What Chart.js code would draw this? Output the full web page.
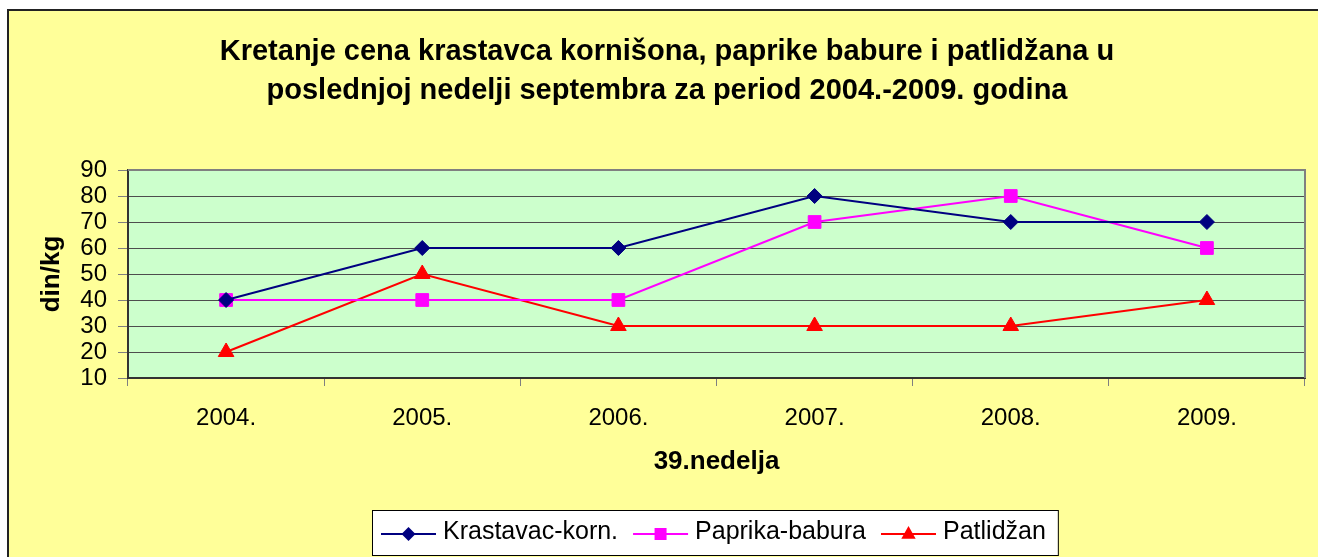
<!DOCTYPE html>
<html>
<head>
<meta charset="utf-8">
<script src="https://cdn.jsdelivr.net/npm/chart.js@4/dist/chart.umd.min.js"></script>
<style>
  html, body { margin: 0; padding: 0; background: #fff; }
  canvas { display: block; }
</style>
</head>
<body>
<canvas id="chart" width="1318" height="557"></canvas>
<script>
// data
const TITLE_LINES = [
  'Kretanje cena krastavca kornišona, paprike babure i patlidžana u',
  'poslednjoj nedelji septembra za period 2004.-2009. godina',
];
const YEARS = ['2004.', '2005.', '2006.', '2007.', '2008.', '2009.'];
const KRASTAVAC = [40, 60, 60, 80, 70, 70];
const PAPRIKA = [40, 40, 40, 70, 80, 60];
const PATLIDZAN = [20, 50, 30, 30, 30, 40];
const Y_TITLE = 'din/kg';
const X_TITLE = '39.nedelja';

const FONT = '"Liberation Sans", Arial, sans-serif';

// background, plot fill, plot frame
const frame = {
  id: 'frame',
  beforeDraw(chart) {
    const {ctx, chartArea: a} = chart;
    ctx.save();
    ctx.fillStyle = '#ffffff';
    ctx.fillRect(0, 0, chart.width, chart.height);
    ctx.fillStyle = '#ffff99';
    ctx.fillRect(8, 10, chart.width, chart.height);
    ctx.strokeStyle = '#222';
    ctx.lineWidth = 2;
    ctx.strokeRect(8, 10, chart.width + 20, chart.height + 20);
    ctx.fillStyle = '#ccffcc';
    ctx.fillRect(a.left, a.top, a.right - a.left, a.bottom - a.top);
    ctx.restore();
  },
  beforeDatasetsDraw(chart) {
    const {ctx, chartArea: a} = chart;
    ctx.save();
    ctx.strokeStyle = '#808080';
    ctx.lineWidth = 2;
    ctx.beginPath();
    ctx.moveTo(a.left, a.top);
    ctx.lineTo(a.right, a.top);
    ctx.lineTo(a.right, a.bottom);
    ctx.stroke();
    ctx.restore();
  },
};

// two-line title
const titleLines = {
  id: 'titleLines',
  afterDraw(chart) {
    const ctx = chart.ctx;
    ctx.save();
    ctx.fillStyle = '#000';
    ctx.font = 'bold 29px ' + FONT;
    ctx.textAlign = 'center';
    ctx.textBaseline = 'alphabetic';
    ctx.fillText(TITLE_LINES[0], 667, 60);
    ctx.fillText(TITLE_LINES[1], 667, 99);
    ctx.restore();
  },
};

function marker(ctx, style, x, y, r, color) {
  ctx.fillStyle = color;
  ctx.beginPath();
  if (style === 'rectRot') {
    ctx.moveTo(x - r, y);
    ctx.lineTo(x, y - r);
    ctx.lineTo(x + r, y);
    ctx.lineTo(x, y + r);
  } else if (style === 'rect') {
    ctx.rect(x - r, y - r, 2 * r, 2 * r);
  } else {
    ctx.moveTo(x, y - r);
    ctx.lineTo(x + r * 0.9, y + r * 0.6);
    ctx.lineTo(x - r * 0.9, y + r * 0.6);
  }
  ctx.closePath();
  ctx.fill();
}

// boxed legend: line with marker in the middle, like the spreadsheet one
const boxLegend = {
  id: 'boxLegend',
  afterDraw(chart) {
    const ctx = chart.ctx;
    const sets = chart.data.datasets;
    const left = 372, top = 510, h = 45, lineY = 534;
    ctx.save();
    ctx.font = '25px ' + FONT;
    let x = left + 9;
    const items = sets.map((ds) => {
      const it = {ds, x, tx: x + 62, w: ctx.measureText(ds.label).width};
      x = it.tx + it.w + 15;
      return it;
    });
    const right = x - 15 + 12;
    ctx.fillStyle = '#fff';
    ctx.fillRect(left, top, right - left, h);
    ctx.strokeStyle = '#000';
    ctx.lineWidth = 1;
    ctx.strokeRect(left + 0.5, top + 0.5, right - left, h);
    items.forEach((it) => {
      ctx.strokeStyle = it.ds.borderColor;
      ctx.lineWidth = 2;
      ctx.beginPath();
      ctx.moveTo(it.x, lineY);
      ctx.lineTo(it.x + 55, lineY);
      ctx.stroke();
      const half = {rectRot: 7, rect: 6, triangle: 8}[it.ds.pointStyle];
      marker(ctx, it.ds.pointStyle, it.x + 27.5, lineY, half, it.ds.borderColor);
      ctx.fillStyle = '#000';
      ctx.textBaseline = 'alphabetic';
      ctx.fillText(it.ds.label, it.tx, 539);
    });
    ctx.restore();
  },
};

function series(label, data, color, style, radius) {
  return {
    label,
    data,
    borderColor: color,
    backgroundColor: color,
    borderWidth: 2,
    pointStyle: style,
    pointRadius: radius,
    pointBorderWidth: 1,
    pointBackgroundColor: color,
    pointBorderColor: color,
    tension: 0,
  };
}

new Chart(document.getElementById('chart'), {
  type: 'line',
  data: {
    labels: YEARS,
    datasets: [
      series('Krastavac-korn.', KRASTAVAC, '#000080', 'rectRot', 7.5),
      series('Paprika-babura', PAPRIKA, '#ff00ff', 'rect', 9),
      series('Patlidžan', PATLIDZAN, '#ff0000', 'triangle', 9),
    ],
  },
  options: {
    responsive: false,
    devicePixelRatio: 1,
    animation: false,
    layout: {padding: {left: 0, right: 13, top: 170, bottom: 0}},
    plugins: {
      legend: {display: false},
      title: {display: false},
      tooltip: {enabled: false},
    },
    scales: {
      x: {
        offset: true,
        afterFit(scale) { scale.height = 179; },
        grid: {
          offset: true,
          drawOnChartArea: false,
          drawTicks: true,
          tickLength: 8,
          color: '#808080',
        },
        border: {color: '#333', width: 2},
        ticks: {
          color: '#000',
          padding: 18,
          font: {family: FONT, size: 24},
        },
        title: {
          display: true,
          text: X_TITLE,
          color: '#000',
          font: {family: FONT, size: 26, weight: 'bold'},
          padding: {top: 0, bottom: 80},
        },
      },
      y: {
        min: 10,
        max: 90,
        afterFit(scale) { scale.width = 128; },
        grid: {
          color: (c) => (c.tick && c.tick.value === 90 ? '#808080' : '#4d4d4d'),
          tickColor: '#808080',
          tickLength: 10,
        },
        border: {color: '#333', width: 2},
        ticks: {
          stepSize: 10,
          autoSkip: false,
          color: '#000',
          padding: 11,
          font: {family: FONT, size: 24},
        },
        title: {
          display: true,
          text: Y_TITLE,
          color: '#000',
          font: {family: FONT, size: 26, weight: 'bold'},
          padding: {top: 36, bottom: 0},
        },
      },
    },
  },
  plugins: [frame, titleLines, boxLegend],
});
</script>
</body>
</html>
